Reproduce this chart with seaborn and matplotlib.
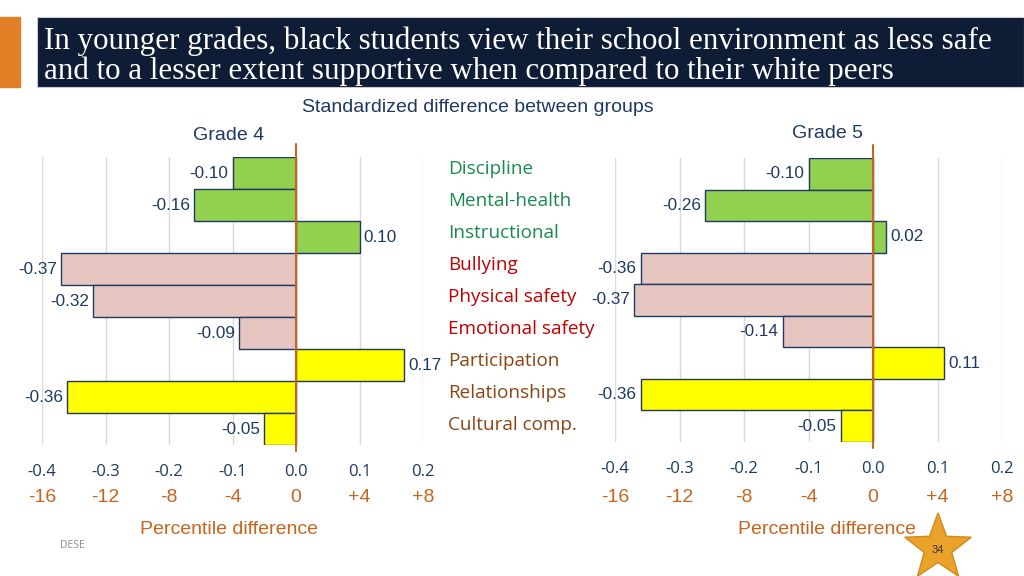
import numpy as np
import pandas as pd
import matplotlib
matplotlib.use('Agg')
import matplotlib.pyplot as plt
import matplotlib.transforms as mtransforms
from matplotlib.patches import Rectangle, Polygon
import seaborn as sns


# Data
categories = ['Discipline', 'Mental-health', 'Instructional', 'Bullying', 'Physical safety',
              'Emotional safety', 'Participation', 'Relationships', 'Cultural comp.']
domains = ['Support', 'Support', 'Support', 'Safety', 'Safety', 'Safety',
           'Engagement', 'Engagement', 'Engagement']
grade4 = [-0.10, -0.16, 0.10, -0.37, -0.32, -0.09, 0.17, -0.36, -0.05]
grade5 = [-0.10, -0.26, 0.02, -0.36, -0.37, -0.14, 0.11, -0.36, -0.05]
effect_ticks = [-0.4, -0.3, -0.2, -0.1, 0.0, 0.1, 0.2]
pct_labels = ['-16', '-12', '-8', '-4', '0', '+4', '+8']

bar_colors = {'Support': '#92d050', 'Safety': '#e6c6c0', 'Engagement': '#ffff00'}
label_colors = {'Support': '#1a8a4c', 'Safety': '#c00000', 'Engagement': '#8b4513'}

navy = '#1f3864'
orange = '#c8641e'

sns.set_style('white')
plt.rcParams['font.family'] = ['Liberation Sans', 'DejaVu Sans']

W, H = 1024, 576
fig = plt.figure(figsize=(10.24, 5.76), dpi=100)

# background layer in pixel coords for slide decorations
bg = fig.add_axes([0, 0, 1, 1], zorder=0)
bg.set_xlim(0, W)
bg.set_ylim(H, 0)
bg.axis('off')
bg.add_patch(Rectangle((0, 17), 20, 70, color='#e07f26'))
bg.add_patch(Rectangle((37, 17), W - 37, 70, facecolor='#0f1c36', edgecolor='#c9ccd3', lw=0.8))
bg.text(44, 41, 'In younger grades, black students view their school environment as less safe',
        color='white', fontsize=22.3, family='Liberation Serif', va='center')
bg.text(44, 71, 'and to a lesser extent supportive when compared to their white peers',
        color='white', fontsize=22.3, family='Liberation Serif', va='center')

bg.text(478, 108, 'Standardized difference between groups', color=navy, fontsize=14,
        ha='center', va='center')
bg.text(229, 135, 'Grade 4', color=navy, fontsize=14, ha='center', va='center')
bg.text(827, 133, 'Grade 5', color=navy, fontsize=14, ha='center', va='center')
bg.text(229, 529, 'Percentile difference', color=orange, fontsize=14, ha='center', va='center')
bg.text(827, 529, 'Percentile difference', color=orange, fontsize=14, ha='center', va='center')
bg.text(72, 545, 'DESE', color='#8c8c8c', fontsize=7.5, ha='center', va='center', family='Open Sans')

# page number star
cx, cy, r_out, r_in = 938, 548, 35, 14.5
ang = np.pi / 2 + np.arange(10) * np.pi / 5
rad = np.where(np.arange(10) % 2 == 0, r_out, r_in)
star = np.column_stack([cx + rad * np.cos(ang), cy - rad * np.sin(ang)])
bg.add_patch(Polygon(star, closed=True, facecolor='#eaa22a', edgecolor='#d08a1c', lw=1, zorder=3))
bg.text(cx, cy + 2, '34', fontsize=8, color='#333333', ha='center', va='center', zorder=4)


def draw_panel(rect_px, values, show_labels):
    x0, y_top, x1, y_bot = rect_px
    ax = fig.add_axes([x0 / W, (H - y_bot) / H, (x1 - x0) / W, (y_bot - y_top) / H], zorder=1)
    ax.patch.set_alpha(0)
    df = pd.DataFrame({'category': categories, 'value': values, 'domain': domains})
    sns.barplot(data=df, x='value', y='category', hue='domain', palette=bar_colors,
                dodge=False, orient='h', width=1.0, edgecolor=navy, linewidth=1.0,
                saturation=1, legend=False, ax=ax)
    for cont in ax.containers:
        ax.bar_label(cont, fmt='%.2f', padding=3, color=navy, fontsize=12.3)
    ax.set_xlim(-0.4, 0.2)
    ax.set_ylim(8.5, -0.5)
    ax.set_xlabel('')
    ax.set_ylabel('')
    ax.set_yticks([])
    ax.set_xticks(effect_ticks)
    ax.set_xticklabels(['%.1f' % t for t in effect_ticks], color=navy, fontsize=12,
                       family='Open Sans')
    ax.tick_params(axis='x', length=0, pad=14)
    ax.grid(axis='x', color='#d9d9d9', lw=1)
    ax.set_axisbelow(True)
    for s in ax.spines.values():
        s.set_visible(False)
    ax.axvline(0, ymin=-0.02, ymax=1.045, color=orange, lw=1.5, clip_on=False, zorder=5)

    trans = mtransforms.blended_transform_factory(ax.transData, fig.transFigure)
    for t, lab in zip(effect_ticks, pct_labels):
        ax.text(t, (H - 497) / H, lab, transform=trans, color=orange, fontsize=14,
                ha='center', va='center')

    if show_labels:
        ltrans = mtransforms.blended_transform_factory(fig.transFigure, ax.transData)
        for i, (cat, dom) in enumerate(zip(categories, domains)):
            ax.text(448 / W, i - 0.14, cat, transform=ltrans, color=label_colors[dom],
                    fontsize=13.6, family='Open Sans', ha='left', va='center')
    return ax


draw_panel((42, 157, 423, 445), grade4, True)
draw_panel((615, 158, 1002, 442), grade5, False)

fig.savefig('out.png', dpi=100)
